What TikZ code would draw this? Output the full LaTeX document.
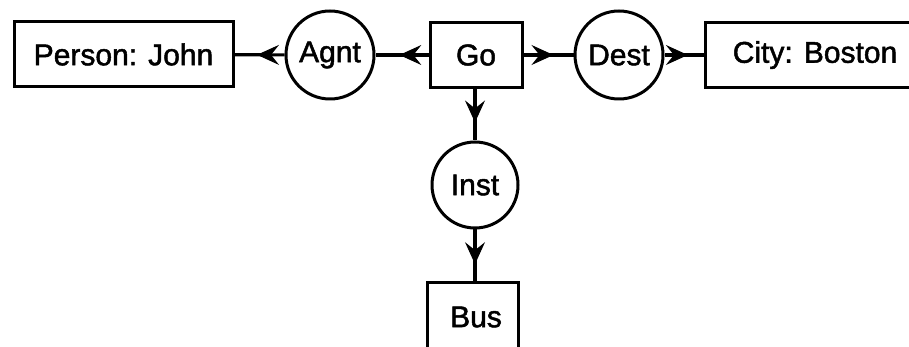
\documentclass[tikz,border=0pt]{standalone}
\usepackage{fontspec}
\setmainfont{Liberation Sans}[BoldFont=Liberation Sans,BoldFeatures={FakeBold=1.6}]
\usetikzlibrary{arrows.meta,decorations.markings}
\begin{document}
\begin{tikzpicture}[x=1pt,y=-1pt,
  box/.style={draw,line width=3pt,rectangle,inner sep=0pt,minimum height=65pt},
  rel/.style={draw,line width=3pt,circle,inner sep=0pt,minimum size=88pt},
  lbl/.style={font=\fontsize{30}{30}\selectfont\bfseries},
  conn/.style={line width=3.2pt,postaction={decorate},
    decoration={markings,mark=at position #1 with {\arrow[line width=1pt]{Stealth[length=22pt,width=20pt,inset=8pt]}}}},
  conn/.default=0.55]
\useasboundingbox (0,0) rectangle (909,347);
\clip (0,0) rectangle (909,347);
\fill[white] (0,0) rectangle (909,347);
\node[box,minimum width=219pt] (person) at (123.5,54.5) {};
\node[lbl] at (person.center) {Person: John};
\node[rel] (agnt) at (330,55) {};
\node[lbl] at (agnt.center) {Agnt};
\node[box,minimum width=92pt] (go) at (476,55) {};
\node[lbl] at (go.center) {Go};
\node[rel] (dest) at (619,55) {};
\node[lbl] at (dest.center) {Dest};
\node[box,minimum width=220pt] (city) at (815,55) {};
\node[lbl] at (city.center) {City: Boston};
\node[rel,minimum size=86pt] (inst) at (475,185) {};
\node[lbl] at (inst.center) {Inst};
\node[box,minimum width=91pt,minimum height=70pt] (bus) at (472.5,317) {};
\node[lbl] at (476,317) {Bus};
\draw[conn=0.55] (go) -- (agnt);
\draw[conn=0.55] (agnt) -- (person);
\draw[conn=0.6] (go) -- (dest);
\draw[conn=0.6] (dest) -- (city);
\draw[conn=0.65] (go.south -| inst.north) -- (inst);
\draw[conn=0.68] (inst) -- (bus.north -| inst.south);
\end{tikzpicture}
\end{document}
